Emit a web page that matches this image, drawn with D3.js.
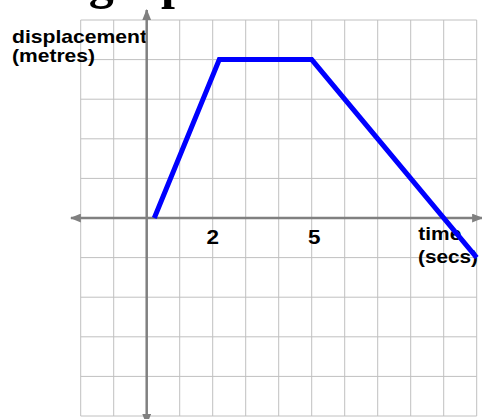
<!DOCTYPE html>
<html lang="en">
<head>
    <meta charset="UTF-8">
    <title>Displacement-time graph</title>
    <script src="https://d3js.org/d3.v7.min.js"></script>
    <style>
        body { margin: 0; background: #fff; }
        .grid line { stroke: #c0c0c0; stroke-width: 1px; }
        .axis { stroke: #808080; stroke-width: 2.5px; }
        .lbl { font-family: "Liberation Sans", Arial, sans-serif; font-weight: bold; fill: #000; }
    </style>
</head>
<body>
    <svg width="482" height="419"></svg>
    <script>
        // data
        const time = [0.23, 2.2, 5, 10];
        const displacement = [0, 4, 4, -1];
        const tickLabels = [2, 5];
        const xGrid = d3.range(-2, 11);   // -2 .. 10
        const yGrid = d3.range(-5, 6);    // -5 .. 5

        const svg = d3.select("svg");

        const x = d3.scaleLinear().domain([-2, 10]).range([80.7, 476.7]);
        const y = d3.scaleLinear().domain([5, -5]).range([20, 416]);

        // title, mostly cut off at the top of the picture
        svg.append("text")
            .attr("x", 236)
            .attr("y", -2.5)
            .attr("text-anchor", "end")
            .style("font-family", "'Liberation Serif', 'Times New Roman', serif")
            .style("font-weight", "bold")
            .style("font-size", "50px")
            .text("Displacement-time graphs");

        // grid
        const grid = svg.append("g").attr("class", "grid");
        grid.selectAll(".v")
            .data(xGrid)
            .enter().append("line")
            .attr("x1", d => x(d)).attr("x2", d => x(d))
            .attr("y1", y(5)).attr("y2", y(-5));
        grid.selectAll(".h")
            .data(yGrid)
            .enter().append("line")
            .attr("x1", x(-2)).attr("x2", x(10))
            .attr("y1", d => y(d)).attr("y2", d => y(d));

        // labels
        const labels = [
            { t: "displacement", x: 12, y: 42.8, len: 135, size: 18.5 },
            { t: "(metres)", x: 12, y: 61.8, len: 83, size: 18.5 },
            { t: "time", x: 418.3, y: 239.5, len: 43, size: 18.5 },
            { t: "(secs)", x: 418, y: 263, len: 60, size: 18.5 }
        ];
        svg.selectAll(".axlbl")
            .data(labels)
            .enter().append("text")
            .attr("class", "lbl")
            .attr("x", d => d.x)
            .attr("y", d => d.y)
            .attr("textLength", d => d.len)
            .attr("lengthAdjust", "spacingAndGlyphs")
            .style("font-size", d => d.size + "px")
            .text(d => d.t);

        svg.selectAll(".tick")
            .data(tickLabels)
            .enter().append("text")
            .attr("class", "lbl")
            .attr("x", d => x(d) + (d === 5 ? 2.5 : 0))
            .attr("y", 243.5)
            .attr("text-anchor", "middle")
            .attr("textLength", 12.5)
            .attr("lengthAdjust", "spacingAndGlyphs")
            .style("font-size", "20.5px")
            .text(d => d);

        // axes with arrow heads
        const defs = svg.append("defs");
        defs.append("marker")
            .attr("id", "arrow")
            .attr("viewBox", "0 0 10 8")
            .attr("refX", 9).attr("refY", 4)
            .attr("markerUnits", "userSpaceOnUse")
            .attr("markerWidth", 11).attr("markerHeight", 9)
            .attr("orient", "auto-start-reverse")
            .append("path")
            .attr("d", "M0,0 L10,4 L0,8 Z")
            .attr("fill", "#808080");

        svg.append("line")
            .attr("class", "axis")
            .attr("x1", 71).attr("x2", 482)
            .attr("y1", y(0)).attr("y2", y(0))
            .attr("marker-start", "url(#arrow)")
            .attr("marker-end", "url(#arrow)");
        svg.append("line")
            .attr("class", "axis")
            .attr("x1", x(0)).attr("x2", x(0))
            .attr("y1", 10).attr("y2", 424)
            .attr("marker-start", "url(#arrow)")
            .attr("marker-end", "url(#arrow)");

        // the displacement line
        const pts = time.map((t, i) => [t, displacement[i]]);
        svg.append("path")
            .datum(pts)
            .attr("fill", "none")
            .attr("stroke", "#0000ff")
            .attr("stroke-width", 5)
            .attr("stroke-linejoin", "miter")
            .attr("d", d3.line().x(d => x(d[0])).y(d => y(d[1])));
    </script>
</body>
</html>
